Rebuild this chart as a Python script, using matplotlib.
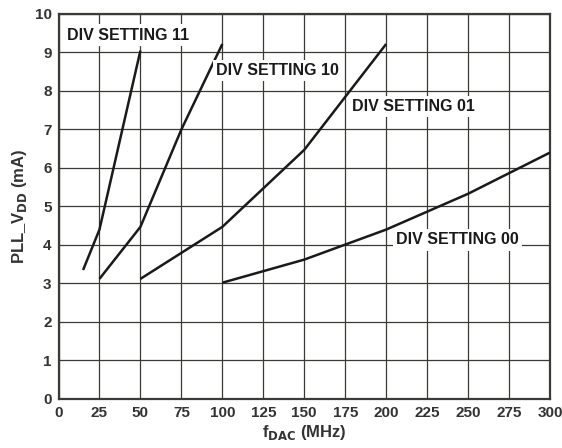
import matplotlib
matplotlib.use("Agg")
import matplotlib.pyplot as plt

plt.rcParams['font.family'] = ['Liberation Sans', 'DejaVu Sans']

# Supply current vs DAC clock for each divider setting
f_div11 = [15, 25, 50]
i_div11 = [3.35, 4.4, 9.05]

f_div10 = [25, 50, 75, 100]
i_div10 = [3.12, 4.47, 7.0, 9.22]

f_div01 = [50, 100, 150, 200]
i_div01 = [3.12, 4.47, 6.47, 9.22]

f_div00 = [100, 150, 200, 250, 300]
i_div00 = [3.02, 3.62, 4.4, 5.33, 6.4]

series = [
    (f_div11, i_div11, "DIV SETTING 11", (5, 9.45)),
    (f_div10, i_div10, "DIV SETTING 10", (96, 8.53)),
    (f_div01, i_div01, "DIV SETTING 01", (179, 7.6)),
    (f_div00, i_div00, "DIV SETTING 00", (206, 4.13)),
]

x_ticks = [0, 25, 50, 75, 100, 125, 150, 175, 200, 225, 250, 275, 300]
y_ticks = [0, 1, 2, 3, 4, 5, 6, 7, 8, 9, 10]

grid_col = "#3a3a36"
text_col = "#333333"

fig = plt.figure(figsize=(5.62, 4.48), dpi=100)
ax = fig.add_axes([0.1041, 0.1094, 0.8745, 0.8594])

ax.set_xlim(0, 300)
ax.set_ylim(0, 10)
ax.set_xticks(x_ticks)
ax.set_yticks(y_ticks)
ax.grid(True, color=grid_col, linewidth=0.9)
ax.set_axisbelow(True)
for s in ax.spines.values():
    s.set_color(grid_col)
    s.set_linewidth(1.6)
ax.tick_params(length=0, pad=5, labelsize=11, labelcolor=text_col)
for lbl in ax.get_xticklabels() + ax.get_yticklabels():
    lbl.set_fontweight("bold")

for fx, iy, name, (tx, ty) in series:
    ax.plot(fx, iy, color="#1a1a1a", linewidth=1.8, solid_capstyle="butt", zorder=3)
    ax.text(tx, ty, name, fontsize=11.5, fontweight="bold", color="#1a1a1a",
            ha="left", va="center", zorder=4,
            bbox=dict(boxstyle="square,pad=0.2", facecolor="white", edgecolor="none"))

ax.set_xlabel(r"f$_\mathbf{DAC}$ (MHz)", fontsize=12, fontweight="bold",
              color=text_col, labelpad=2)
ax.set_ylabel(r"PLL_V$_\mathbf{DD}$ (mA)", fontsize=12, fontweight="bold",
              color=text_col, labelpad=4)

fig.savefig("out.png", dpi=100)
